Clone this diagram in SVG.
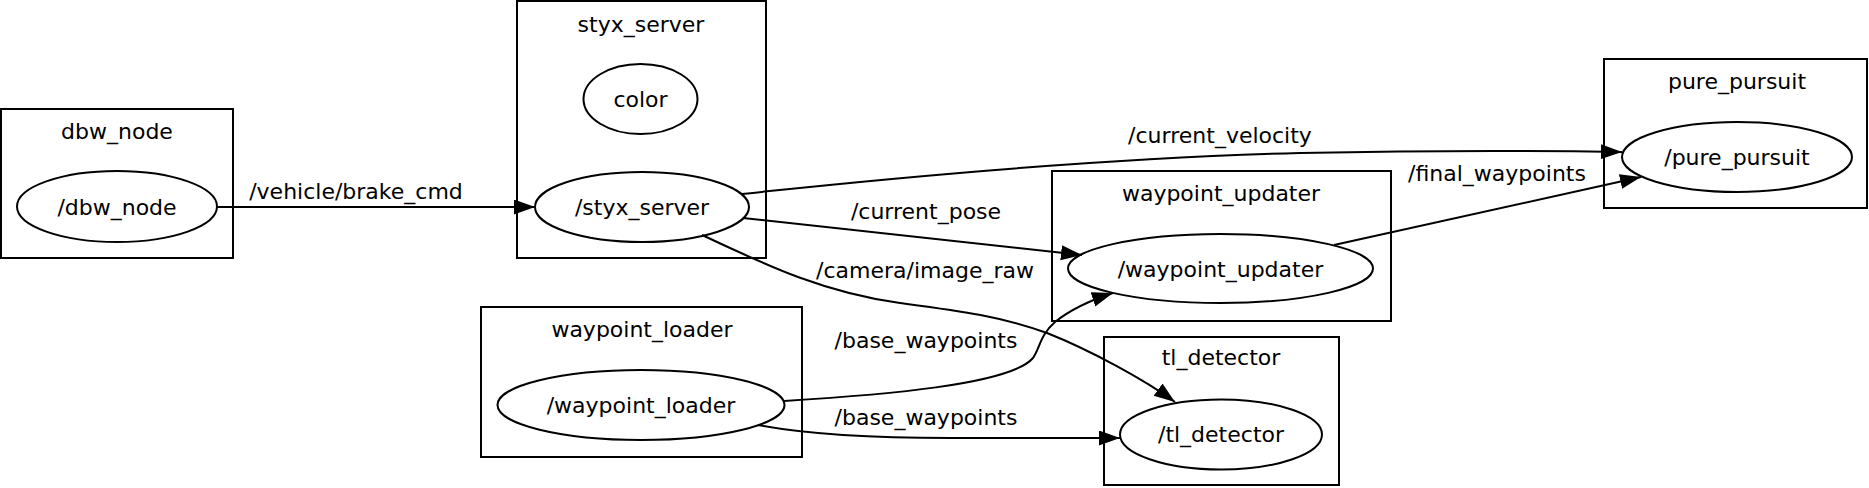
<svg xmlns="http://www.w3.org/2000/svg" width="1869" height="488" viewBox="0 0 1869 488">
<style>
.box{fill:none;stroke:#000;stroke-width:2}
.el{fill:none;stroke:#000;stroke-width:2}
.edge{fill:none;stroke:#000;stroke-width:2}
text{font-family:"DejaVu Sans","Liberation Sans",sans-serif;font-size:22px;fill:#000;text-anchor:middle}
</style>
<defs>
<marker id="arr" markerUnits="userSpaceOnUse" markerWidth="22" markerHeight="16" refX="21" refY="7.5" orient="auto">
<path d="M0,0 L21,7.5 L0,15 z" fill="#000"/>
</marker>
</defs>
<rect width="1869" height="488" fill="#fff"/>
<g id="dbw_node">
<rect class="box" x="1" y="109" width="232" height="149"/>
<text x="117" y="139">dbw_node</text>
<ellipse class="el" cx="117" cy="206.5" rx="100" ry="35.5"/>
<text x="117" y="215">/dbw_node</text>
</g>
<g id="styx_server">
<rect class="box" x="517" y="1" width="249" height="257"/>
<text x="641" y="32">styx_server</text>
<ellipse class="el" cx="640.5" cy="99" rx="57" ry="35"/>
<text x="640.5" y="107">color</text>
<ellipse class="el" cx="642" cy="207" rx="107" ry="35"/>
<text x="642" y="215">/styx_server</text>
</g>
<g id="waypoint_loader">
<rect class="box" x="481" y="307" width="321" height="150"/>
<text x="642" y="337">waypoint_loader</text>
<ellipse class="el" cx="641" cy="405" rx="143.5" ry="35"/>
<text x="641" y="413">/waypoint_loader</text>
</g>
<g id="waypoint_updater">
<rect class="box" x="1052" y="171" width="339" height="150"/>
<text x="1221" y="201">waypoint_updater</text>
<ellipse class="el" cx="1220.5" cy="268.5" rx="152.5" ry="34.5"/>
<text x="1220.5" y="277">/waypoint_updater</text>
</g>
<g id="pure_pursuit">
<rect class="box" x="1604" y="59" width="263" height="149"/>
<text x="1737" y="89">pure_pursuit</text>
<ellipse class="el" cx="1737" cy="157" rx="115" ry="35"/>
<text x="1737" y="165">/pure_pursuit</text>
</g>
<g id="tl_detector">
<rect class="box" x="1104" y="337" width="235" height="148"/>
<text x="1221" y="365">tl_detector</text>
<ellipse class="el" cx="1221" cy="434.5" rx="101" ry="35"/>
<text x="1221" y="442">/tl_detector</text>
</g>
<g id="connectors">
<path class="edge" marker-end="url(#arr)" d="M217,207 L535,207"/>
<text x="356" y="199">/vehicle/brake_cmd</text>
<path class="edge" marker-end="url(#arr)" d="M742,194 C900,177 1100,158 1300,153 C1450,150 1560,151 1622,152"/>
<text x="1220" y="143">/current_velocity</text>
<path class="edge" marker-end="url(#arr)" d="M743,218 L1082,255"/>
<text x="926" y="219">/current_pose</text>
<path class="edge" marker-end="url(#arr)" d="M702,235 C760,262 820,292 900,303 C960,311 1000,316 1047,333 C1090,350 1145,380 1175,402"/>
<text x="925" y="278">/camera/image_raw</text>
<path class="edge" marker-end="url(#arr)" d="M784,401 C880,395 1010,385 1033,358 C1040,348 1040,335 1055,322 C1070,310 1088,301 1113,293"/>
<text x="926" y="348">/base_waypoints</text>
<path class="edge" marker-end="url(#arr)" d="M758,425 C800,433 860,438 950,438 L1120,438"/>
<text x="926" y="425">/base_waypoints</text>
<path class="edge" marker-end="url(#arr)" d="M1334,245 L1641,177"/>
<text x="1497" y="181">/final_waypoints</text>
</g>
</svg>
